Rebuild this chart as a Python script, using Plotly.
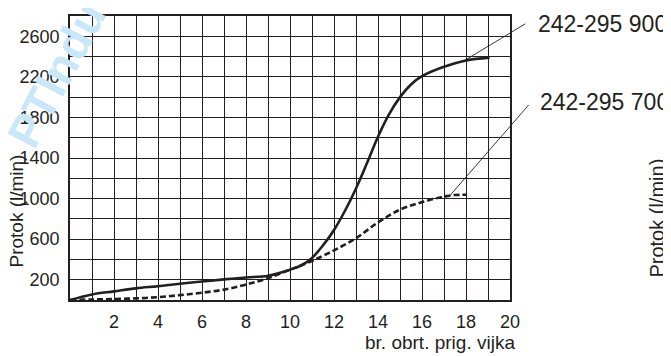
import plotly.graph_objects as go

# turns of the adjusting screw vs. flow (l/min)
turns_900 = [0, 1, 2, 3, 4, 5, 6, 7, 8, 9, 10, 10.5, 11, 11.5, 12, 12.5, 13, 13.5, 14, 14.5, 15, 15.5, 16, 17, 18, 19.07]
flow_900 = [0, 55, 85, 115, 136, 160, 182, 203, 222, 240, 299, 340, 415, 538, 690, 880, 1100, 1350, 1610, 1830, 2000, 2125, 2207, 2300, 2362, 2390]

turns_700 = [0, 1, 2, 3, 4, 5, 6, 7, 8, 9, 10, 11, 12, 13, 14, 15, 16, 17, 17.5, 18]
flow_700 = [0, 5, 10, 16, 28, 48, 72, 102, 152, 216, 299, 385, 489, 609, 765, 890, 965, 1020, 1035, 1037]

x_ticks = [2, 4, 6, 8, 10, 12, 14, 16, 18, 20]
y_ticks = [200, 600, 1000, 1400, 1800, 2200, 2600]

label_900 = "242-295 900"
label_700 = "242-295 700"

ink = "#231f20"
font = "Liberation Sans, Arial, sans-serif"

fig = go.Figure()

fig.add_trace(go.Scatter(
    x=turns_900, y=flow_900,
    mode="lines", line=dict(color=ink, width=2.6, shape="spline", smoothing=1),
    name=label_900, showlegend=False
))
fig.add_trace(go.Scatter(
    x=turns_700, y=flow_700,
    mode="lines", line=dict(color=ink, width=2.6, dash="6px,3px", shape="spline", smoothing=1),
    name=label_700, showlegend=False
))

axis_common = dict(
    showline=True, mirror=True, linecolor=ink, linewidth=1.6,
    showgrid=True, gridcolor=ink, gridwidth=1.3,
    zeroline=False, ticks="",
    tickfont=dict(family=font, size=18, color=ink),
)

fig.update_xaxes(
    range=[0, 20], tickmode="array", tickvals=x_ticks,
    ticklabelstandoff=5,
    minor=dict(tickmode="linear", tick0=0, dtick=1, showgrid=True, gridcolor=ink, gridwidth=1.3),
    **axis_common
)
fig.update_yaxes(
    range=[0, 2800], tickmode="array", tickvals=y_ticks,
    ticklabelstandoff=5,
    minor=dict(tickmode="linear", tick0=0, dtick=200, showgrid=True, gridcolor=ink, gridwidth=1.3),
    **axis_common
)

# watermark
fig.add_annotation(
    text="<b>PTIndu</b>", xref="paper", yref="paper", x=-0.032, y=0.794,
    xanchor="center", yanchor="middle",
    showarrow=False, textangle=-62, font=dict(family=font, size=46, color="#c8e7f8"),
)

# leader lines to the series labels
fig.add_annotation(x=17.9, y=2357, ax=63, ay=-38, text="", showarrow=True,
                   arrowhead=0, arrowwidth=0.9, arrowcolor=ink)
fig.add_annotation(x=17.27, y=1030, ax=80, ay=-92, text="", showarrow=True,
                   arrowhead=0, arrowwidth=0.9, arrowcolor=ink)

fig.add_annotation(text=label_900, xref="paper", yref="paper", x=1.059, y=0.973,
                   xanchor="left", yanchor="middle", showarrow=False,
                   font=dict(family=font, size=23, color=ink))
fig.add_annotation(text=label_700, xref="paper", yref="paper", x=1.0636, y=0.696,
                   xanchor="left", yanchor="middle", showarrow=False,
                   font=dict(family=font, size=23, color=ink))

# axis titles
fig.add_annotation(text="br. obrt. prig. vijka", xref="paper", yref="paper", x=1.016, y=-0.15,
                   xanchor="right", yanchor="middle", showarrow=False,
                   font=dict(family=font, size=19, color=ink))
fig.add_annotation(text="Protok (l/min)", xref="paper", yref="paper", x=-0.1205, y=0.315,
                   xanchor="center", yanchor="middle", textangle=-90, showarrow=False,
                   font=dict(family=font, size=19, color=ink))
# title of the neighbouring chart at the right edge
fig.add_annotation(text="Protok (l/min)", xref="paper", yref="paper", x=1.334, y=0.29,
                   xanchor="center", yanchor="middle", textangle=-90, showarrow=False,
                   font=dict(family=font, size=20, color=ink))

# the page body adds an 8px offset, so the figure is 8px smaller than the window
fig.update_layout(
    width=663, height=348,
    margin=dict(l=62, r=161, t=6, b=56),
    paper_bgcolor="white", plot_bgcolor="white",
)

fig.write_html("out.html")
